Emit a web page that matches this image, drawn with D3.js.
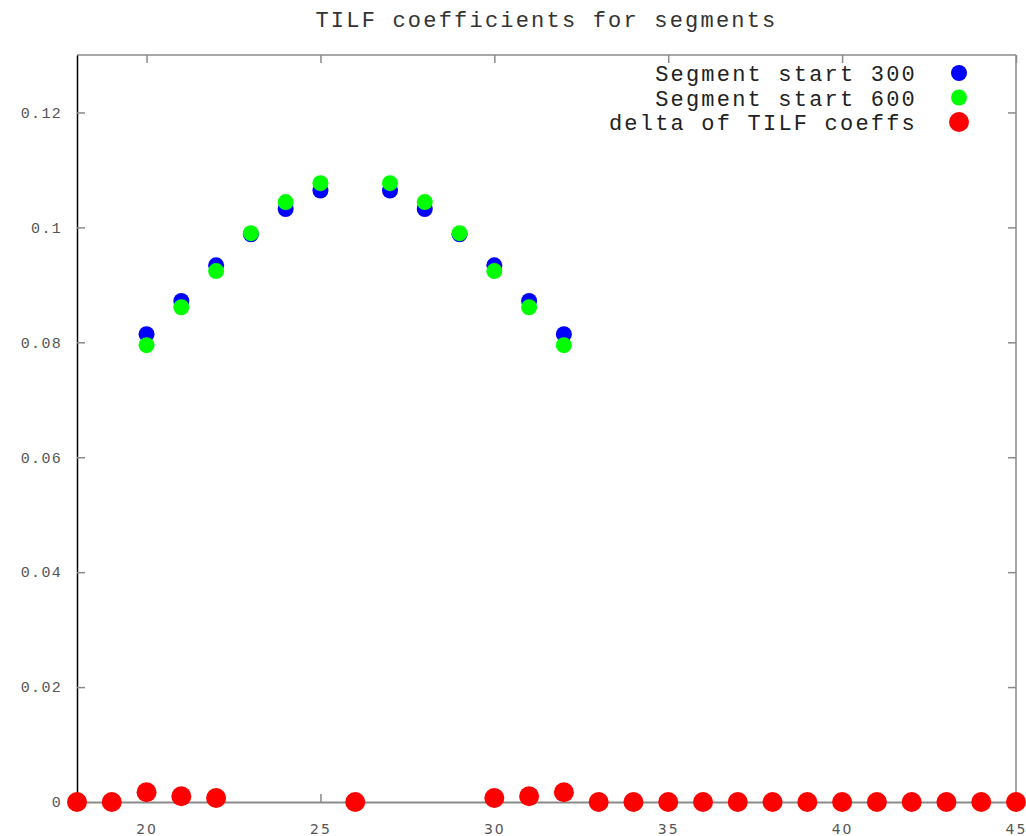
<!DOCTYPE html>
<html>
<head>
<meta charset="utf-8">
<script src="https://cdn.jsdelivr.net/npm/d3@7"></script>
<style>
  body { margin: 0; background: #fff; }
  text { font-family: "Liberation Mono", "DejaVu Sans Mono", monospace; }
</style>
</head>
<body>
<svg width="1026" height="836"></svg>
<script>
// values
let segX = [20, 21, 22, 23, 24, 25, 27, 28, 29, 30, 31, 32];
let seg300 = [0.0814, 0.0872, 0.0934, 0.0988, 0.1032, 0.1064, 0.1064, 0.1032, 0.0988, 0.0934, 0.0872, 0.0814];
let seg600 = [0.0795, 0.0861, 0.0924, 0.0990, 0.1044, 0.1077, 0.1077, 0.1044, 0.0990, 0.0924, 0.0861, 0.0795];
let deltaX = [18, 19, 20, 21, 22, 26, 30, 31, 32, 33, 34, 35, 36, 37, 38, 39, 40, 41, 42, 43, 44, 45];
let delta = [0, 0, 0.0017, 0.0010, 0.0007, 0, 0.0007, 0.0010, 0.0017, 0, 0, 0, 0, 0, 0, 0, 0, 0, 0, 0, 0, 0];
let xTicks = [20, 25, 30, 35, 40, 45];
let yTicks = [0, 0.02, 0.04, 0.06, 0.08, 0.1, 0.12];
let seriesNames = ["Segment start 300", "Segment start 600", "delta of TILF coeffs"];
let seriesColors = ["#0000ff", "#00ff00", "#ff0000"];

let L = 77, T = 55, R = 1016, B = 802;
let svg = d3.select("svg");

let x = d3.scaleLinear().domain([18, 45]).range([L, R]);
let y = d3.scaleLinear().domain([0, 0.13]).range([B, T]);

let grey = "#8a8a8a";
let fmt = d => String(+d.toFixed(2));

// title
svg.append("text")
  .attr("x", (L + R) / 2).attr("y", 27)
  .attr("text-anchor", "middle")
  .style("font-size", "22px").style("letter-spacing", "2.2px")
  .attr("fill", "#333")
  .text("TILF coefficients for segments");

// frame: top + right grey, left black
svg.append("line").attr("x1", L).attr("x2", R).attr("y1", T).attr("y2", T).attr("stroke", grey).attr("stroke-width", 1.5);
svg.append("line").attr("x1", R).attr("x2", R).attr("y1", T).attr("y2", B).attr("stroke", grey).attr("stroke-width", 1.5);

// mirrored ticks
let topAx = svg.append("g").attr("transform", `translate(0,${T})`)
  .call(d3.axisTop(x).tickValues(xTicks).tickSize(-8).tickSizeOuter(0).tickFormat(""));
let rightAx = svg.append("g").attr("transform", `translate(${R},0)`)
  .call(d3.axisRight(y).tickValues(yTicks).tickSize(-8).tickSizeOuter(0).tickFormat(""));
[topAx, rightAx].forEach(g => {
  g.select(".domain").remove();
  g.selectAll(".tick line").attr("stroke", grey).attr("stroke-width", 1.5);
});

// bottom axis (zero line)
let botAx = svg.append("g").attr("transform", `translate(0,${B})`)
  .call(d3.axisBottom(x).tickValues(xTicks).tickSize(-8).tickSizeOuter(0).tickPadding(22).tickFormat(d3.format("d")));
botAx.select(".domain").attr("stroke", grey).attr("stroke-width", 2);
botAx.selectAll(".tick line").attr("stroke", grey).attr("stroke-width", 1.5);
botAx.selectAll(".tick text")
  .attr("fill", "#555")
  .style("font-family", "'DejaVu Sans', sans-serif")
  .style("font-size", "14px").style("letter-spacing", "2px");

// left axis
let leftAx = svg.append("g").attr("transform", `translate(${L},0)`)
  .call(d3.axisLeft(y).tickValues(yTicks).tickSize(-8).tickSizeOuter(0).tickPadding(15).tickFormat(fmt));
leftAx.select(".domain").attr("stroke", "#000").attr("stroke-width", 1.5);
leftAx.selectAll(".tick line").attr("stroke", grey).attr("stroke-width", 1.5);
leftAx.selectAll(".tick text")
  .attr("fill", "#555")
  .style("font-size", "15px").style("letter-spacing", "1.3px");

// points
let plot = svg.append("g");
plot.selectAll("circle.s300").data(segX.map((d, i) => [d, seg300[i]]))
  .join("circle").attr("class", "s300")
  .attr("cx", d => x(d[0])).attr("cy", d => y(d[1])).attr("r", 8)
  .attr("fill", seriesColors[0]);
plot.selectAll("circle.s600").data(segX.map((d, i) => [d, seg600[i]]))
  .join("circle").attr("class", "s600")
  .attr("cx", d => x(d[0])).attr("cy", d => y(d[1])).attr("r", 8)
  .attr("fill", seriesColors[1]);
plot.selectAll("circle.delta").data(deltaX.map((d, i) => [d, delta[i]]))
  .join("circle").attr("class", "delta")
  .attr("cx", d => x(d[0])).attr("cy", d => y(d[1])).attr("r", 10)
  .attr("fill", seriesColors[2]);

// legend
let leg = svg.append("g").selectAll("g").data(seriesNames).join("g")
  .attr("transform", (d, i) => `translate(0,${73 + i * 24.5})`);
leg.append("text")
  .attr("x", 917).attr("y", 8)
  .attr("text-anchor", "end")
  .attr("fill", "#222")
  .style("font-size", "22px").style("letter-spacing", "2.2px")
  .text(d => d);
leg.append("circle")
  .attr("cx", 959).attr("cy", 0)
  .attr("r", (d, i) => i == 2 ? 10 : 8)
  .attr("fill", (d, i) => seriesColors[i]);
</script>
</body>
</html>
